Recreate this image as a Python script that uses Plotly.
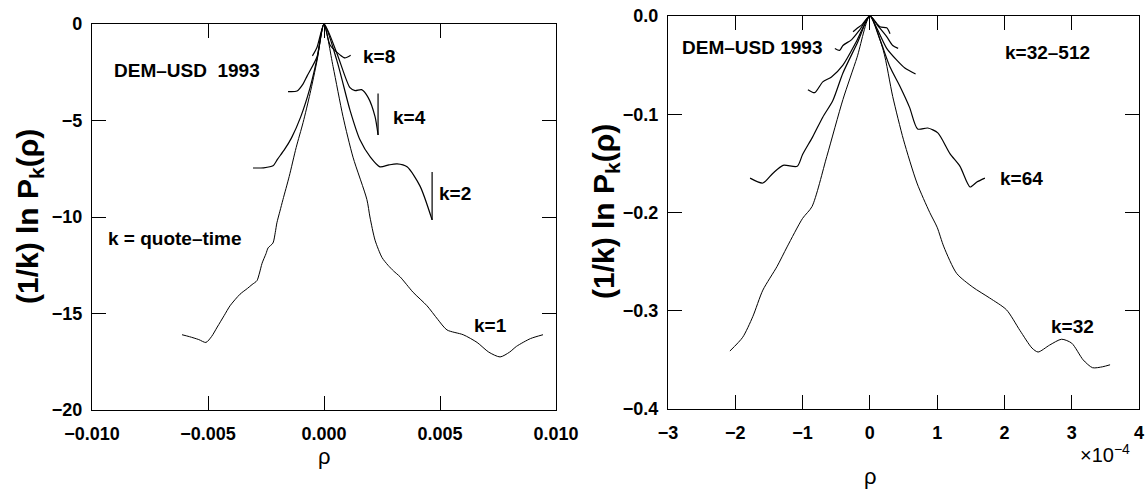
import plotly.graph_objects as go

# ---------------- data ----------------
# Left panel: rho (actual units), (1/k) ln P_k(rho)
k1_x = [-0.00612, -0.0058, -0.0054, -0.00509, -0.00485, -0.0046, -0.0043, -0.00405, -0.00362, -0.0033,
        -0.0031, -0.00289, -0.00278, -0.00267, -0.0025, -0.00241, -0.0022, -0.0021, -0.00203, -0.0019,
        -0.00177, -0.0015, -0.0012, -0.0009, -0.0006, -0.0003, 0.0,
        0.00039, 0.00082, 0.00125, 0.00185, 0.00198, 0.0022, 0.0025, 0.00276, 0.0030, 0.00328,
        0.00384, 0.00444, 0.0049, 0.0053, 0.0060, 0.0066, 0.0071, 0.00759, 0.0080, 0.0083, 0.0089, 0.00944]
k1_y = [-16.1, -16.2, -16.35, -16.5, -16.2, -15.7, -15.1, -14.6, -14.0, -13.7,
        -13.5, -13.3, -12.9, -12.4, -11.9, -11.6, -11.35, -10.8, -10.3, -9.7,
        -9.1, -7.9, -6.4, -5.1, -3.6, -1.9, 0.0,
        -2.2, -4.8, -6.9, -9.1, -10.0, -11.2, -12.1, -12.5, -12.8, -13.1,
        -13.9, -14.6, -15.3, -15.85, -16.1, -16.5, -17.0, -17.25, -17.0, -16.7, -16.3, -16.1]

k2_x = [-0.00306, -0.0026, -0.0022, -0.0020, -0.0017, -0.0014, -0.0010, -0.0006, -0.0003, 0.0,
        0.00055, 0.00112, 0.00155, 0.0020, 0.00241, 0.0028, 0.00315, 0.00358, 0.00414, 0.00466]
k2_y = [-7.46, -7.45, -7.35, -7.0, -6.5, -5.9, -4.8, -3.3, -1.8, 0.0,
        -1.87, -4.46, -6.0, -6.9, -7.4, -7.3, -7.25, -7.4, -8.4, -10.15]
k2_tail_x = [0.00466, 0.00466]
k2_tail_y = [-10.15, -7.67]

k4_x = [-0.00155, -0.00116, -0.0009, -0.00073, -0.0003, 0.0,
        0.00055, 0.00112, 0.00134, 0.00162, 0.0019, 0.0022, 0.00233]
k4_y = [-3.5, -3.47, -3.1, -2.7, -1.7, 0.0,
        -1.5, -3.3, -3.45, -3.4, -3.8, -4.8, -5.75]
k4_tail_x = [0.00233, 0.00233]
k4_tail_y = [-5.75, -3.6]

k8_x = [-0.0005, -0.0003, 0.0, 0.00026, 0.00069, 0.0009, 0.00115]
k8_y = [-1.65, -1.2, 0.0, -1.09, -1.6, -1.76, -1.62]

# Right panel: rho in units of 1e-4
k32_x = [-2.08, -1.89, -1.74, -1.59, -1.38, -1.23, -1.0, -0.86, -0.64, -0.4, -0.19, 0.0,
         0.2, 0.34, 0.5, 0.7, 0.89, 1.0, 1.1, 1.29, 1.53, 1.78, 2.03, 2.23, 2.41, 2.5,
         2.67, 2.85, 3.0, 3.17, 3.31, 3.46, 3.57]
k32_y = [-0.341, -0.327, -0.306, -0.279, -0.255, -0.235, -0.206, -0.194, -0.143, -0.085, -0.042, 0.0,
         -0.035, -0.082, -0.126, -0.17, -0.2, -0.215, -0.235, -0.262, -0.276, -0.287, -0.299, -0.32,
         -0.338, -0.342, -0.335, -0.329, -0.333, -0.35, -0.358, -0.357, -0.355]

k64_x = [-1.78, -1.59, -1.44, -1.29, -1.08, -1.0, -0.85, -0.7, -0.55, -0.4, -0.19, 0.0,
         0.15, 0.3, 0.45, 0.59, 0.71, 0.86, 1.01, 1.19, 1.34, 1.49, 1.59, 1.71]
k64_y = [-0.165, -0.170, -0.160, -0.152, -0.153, -0.141, -0.123, -0.103, -0.086, -0.058, -0.028, 0.0,
         -0.024, -0.052, -0.072, -0.093, -0.115, -0.114, -0.119, -0.14, -0.153, -0.174, -0.169, -0.165]

k128_x = [-0.92, -0.82, -0.7, -0.57, -0.4, -0.2, 0.0, 0.1, 0.25, 0.4, 0.52, 0.68]
k128_y = [-0.075, -0.078, -0.067, -0.062, -0.05, -0.026, 0.0, -0.012, -0.033, -0.045, -0.053, -0.059]

k256_x = [-0.52, -0.45, -0.4, -0.27, -0.15, 0.0, 0.12, 0.25, 0.34, 0.42]
k256_y = [-0.033, -0.035, -0.03, -0.024, -0.014, 0.0, -0.01, -0.021, -0.03, -0.033]

k512_x = [-0.25, -0.18, -0.12, 0.0, 0.15, 0.25, 0.3]
k512_y = [-0.016, -0.012, -0.009, 0.0, -0.011, -0.012, -0.018]

left_xticks = [-0.010, -0.005, 0.0, 0.005, 0.010]
left_yticks = [0, -5, -10, -15, -20]
right_xticks = [-3, -2, -1, 0, 1, 2, 3, 4]
right_yticks = [0.0, -0.1, -0.2, -0.3, -0.4]

# ---------------- figure ----------------
W, H = 1146, 497
FONT = "Liberation Sans"

fig = go.Figure()

def add(x, y, xa, ya, width=1.2, shape="spline"):
    line = dict(color="black", width=width, shape=shape)
    if shape == "spline":
        line["smoothing"] = 0.7
    fig.add_trace(go.Scatter(x=x, y=y, mode="lines", xaxis=xa, yaxis=ya, line=line,
                             showlegend=False, hoverinfo="skip"))

add(k1_x, k1_y, "x", "y", 1.0)
add(k2_x, k2_y, "x", "y")
add(k2_tail_x, k2_tail_y, "x", "y", shape="linear")
add(k4_x, k4_y, "x", "y")
add(k4_tail_x, k4_tail_y, "x", "y", shape="linear")
add(k8_x, k8_y, "x", "y")

add(k32_x, k32_y, "x2", "y2", 1.0)
add(k64_x, k64_y, "x2", "y2")
add(k128_x, k128_y, "x2", "y2")
add(k256_x, k256_y, "x2", "y2")
add(k512_x, k512_y, "x2", "y2")

def px(x, y):
    return x / W, 1 - y / H

axis_common = dict(showgrid=False, zeroline=False, showline=True, linecolor="black",
                   linewidth=1.3, mirror="ticks", ticks="inside", ticklen=14,
                   tickwidth=1.2, tickcolor="black", automargin=False,
                   tickfont=dict(family=FONT, size=18, color="black", weight="bold"))

fig.update_layout(
    width=W, height=H,
    margin=dict(l=0, r=0, t=0, b=0, autoexpand=False),
    paper_bgcolor="white", plot_bgcolor="white",
    xaxis=dict(domain=[92 / W, 556 / W], range=[-0.010, 0.010], tickvals=left_xticks,
               tickformat=".3f", anchor="y", ticklabelstandoff=7, **axis_common),
    yaxis=dict(domain=[1 - 410 / H, 1 - 24 / H], range=[-20, 0], tickvals=left_yticks,
               anchor="x", ticklabelstandoff=5, **axis_common),
    xaxis2=dict(domain=[668 / W, 1139 / W], range=[-3, 4], tickvals=right_xticks,
                anchor="y2", ticklabelstandoff=7, **axis_common),
    yaxis2=dict(domain=[1 - 409 / H, 1 - 16 / H], range=[-0.4, 0], tickvals=right_yticks,
                tickformat=".1f", anchor="x2", ticklabelstandoff=5, **axis_common),
)

def note(text, x, y, size=19, bold=True, angle=0, xanchor="center"):
    ax, ay = px(x, y)
    fig.add_annotation(text=text, x=ax, y=ay, xref="paper", yref="paper",
                       showarrow=False, xanchor=xanchor, yanchor="middle", textangle=angle,
                       font=dict(family=FONT, size=size, color="black",
                                 weight="bold" if bold else "normal"))

note("DEM–USD  1993", 187, 71)
note("k=8", 379, 57)
note("k=4", 409, 117)
note("k=2", 455, 193)
note("k = quote–time", 175, 238)
note("k=1", 490, 325)

note("DEM–USD 1993", 752, 48)
note("k=32–512", 1047, 52)
note("k=64", 1021, 178)
note("k=32", 1072, 326)

note("(1/k) ln P<sub>k</sub>(ρ)", 29, 217, size=30, angle=-90)
note("(1/k) ln P<sub>k</sub>(ρ)", 605, 212, size=30, angle=-90)
note("ρ", 324, 456, size=22, bold=False)
note("ρ", 870, 476, size=22, bold=False)
note("×10<sup>−4</sup>", 1105, 453, size=20, bold=False)

fig.write_html("out.html")
